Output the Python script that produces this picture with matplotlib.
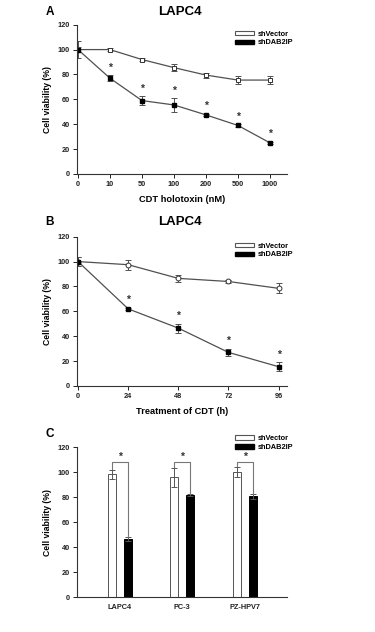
import matplotlib
matplotlib.use("Agg")
import matplotlib.pyplot as plt
from matplotlib.patches import Patch

plt.rcParams['font.family'] = ['Liberation Sans', 'DejaVu Sans']
plt.rcParams['font.weight'] = 'bold'

# Panel A data
a_labels = ["0", "10", "50", "100", "200", "500", "1000"]
a_vec = [100, 100, 92, 85.5, 79.5, 75.5, 75.5]
a_vec_err = [7, 1.5, 1, 3, 2, 3, 3]
a_dab = [100, 77, 59, 55.5, 47.5, 39, 25]
a_dab_err = [2, 2.5, 3.5, 5.5, 1, 1, 1]
a_star = [False, True, True, True, True, True, True]

# Panel B data
b_hours = [0, 24, 48, 72, 96]
b_vec = [100, 97.5, 86.5, 84, 78.5]
b_vec_err = [3.5, 4, 3, 1.5, 4]
b_dab = [100, 62, 46.5, 27, 15.5]
b_dab_err = [3.5, 1, 3.5, 3, 3.5]
b_star = [False, True, True, True, True]

# Panel C data
c_cells = ["LAPC4", "PC-3", "PZ-HPV7"]
c_vec = [98.5, 96, 100]
c_vec_err = [3.5, 7.5, 4]
c_dab = [46.5, 82, 81]
c_dab_err = [1.5, 1, 2]

LC = '#505050'
fig = plt.figure(figsize=(3.75, 6.32), dpi=100)

def style(ax, xlabel):
    for s in ['top', 'right']:
        ax.spines[s].set_visible(False)
    for s in ['left', 'bottom']:
        ax.spines[s].set_color('#333333')
        ax.spines[s].set_linewidth(0.8)
    ax.set_ylim(0, 120)
    ax.set_yticks(range(0, 121, 20))
    ax.tick_params(direction='out', length=3, width=0.7, labelsize=5.3, pad=2, colors='#222222')
    ax.set_ylabel('Cell viability (%)', fontsize=6.2, fontweight='bold', labelpad=4)
    if xlabel:
        ax.set_xlabel(xlabel, fontsize=6.7, fontweight='bold', labelpad=5)

def legend(ax, y):
    h = [Patch(facecolor='white', edgecolor='#555555', linewidth=0.8),
         Patch(facecolor='black', edgecolor='black')]
    ax.legend(h, ['shVector', 'shDAB2IP'], loc='upper left', bbox_to_anchor=(0.74, y),
              frameon=False, fontsize=5.3, handlelength=2.6, handleheight=0.6,
              handletextpad=0.5, labelspacing=0.25, borderaxespad=0)

# Panel A
axA = fig.add_axes([77/375, 1-174/632, 210/375, 149.3/632])
xa = list(range(len(a_labels)))
axA.errorbar(xa, a_vec, yerr=a_vec_err, color=LC, marker='s', markersize=3.5,
             mfc='white', mec='#333333', mew=0.7, lw=0.9, capsize=2, elinewidth=0.7, capthick=0.7)
axA.errorbar(xa, a_dab, yerr=a_dab_err, color=LC, marker='s', markersize=3.5,
             mfc='black', mec='black', lw=0.9, capsize=2, elinewidth=0.7, capthick=0.7)
for x, v, e, s in zip(xa, a_dab, a_dab_err, a_star):
    if s:
        axA.text(x, v + e + 2, '*', ha='center', va='bottom', fontsize=7.5, color='#333333')
axA.set_xlim(-0.03, 6.53)
axA.set_xticks(xa)
axA.set_xticklabels(a_labels)
style(axA, 'CDT holotoxin (nM)')
legend(axA, 0.98)
fig.text(50/375, 1-12/632, 'A', fontsize=8.5, fontweight='bold', va='center', ha='center')
fig.text(180/375, 1-12/632, 'LAPC4', fontsize=9.5, fontweight='bold', va='center', ha='center')

# Panel B
axB = fig.add_axes([77/375, 1-386/632, 210/375, 149.3/632])
axB.errorbar(b_hours, b_vec, yerr=b_vec_err, color=LC, marker='o', markersize=3.5,
             mfc='white', mec='#333333', mew=0.7, lw=0.9, capsize=2, elinewidth=0.7, capthick=0.7)
axB.errorbar(b_hours, b_dab, yerr=b_dab_err, color=LC, marker='s', markersize=3.5,
             mfc='black', mec='black', lw=0.9, capsize=2, elinewidth=0.7, capthick=0.7)
for x, v, e, s in zip(b_hours, b_dab, b_dab_err, b_star):
    if s:
        axB.text(x, v + e + 2, '*', ha='center', va='bottom', fontsize=7.5, color='#333333')
axB.set_xlim(-0.5, 100)
axB.set_xticks(b_hours)
style(axB, 'Treatment of CDT (h)')
legend(axB, 0.98)
fig.text(50/375, 1-222/632, 'B', fontsize=8.5, fontweight='bold', va='center', ha='center')
fig.text(180/375, 1-222/632, 'LAPC4', fontsize=9.5, fontweight='bold', va='center', ha='center')

# Panel C
axC = fig.add_axes([77/375, 1-597.3/632, 210/375, 150/632])
xc = list(range(len(c_cells)))
w = 0.128
off = 0.126
xv = [x - off for x in xc]
xd = [x + off for x in xc]
axC.bar(xv, c_vec, width=w, color='white', edgecolor='#555555', linewidth=0.7,
        yerr=c_vec_err, error_kw=dict(ecolor='#555555', elinewidth=0.7, capsize=2, capthick=0.7))
axC.bar(xd, c_dab, width=w, color='black', edgecolor='black', linewidth=0.7,
        yerr=c_dab_err, error_kw=dict(ecolor='#555555', elinewidth=0.7, capsize=2, capthick=0.7))
for x1, x2, v1, e1, v2, e2 in zip(xv, xd, c_vec, c_vec_err, c_dab, c_dab_err):
    top = 108
    axC.plot([x1, x1, x2, x2], [v1 + e1 + 1, top, top, v2 + e2], color='#777777', lw=0.8)
    axC.text((x1 + x2) / 2, top + 0.5, '*', ha='center', va='bottom', fontsize=7.5, color='#333333')
axC.set_xlim(-0.68, 2.67)
axC.set_xticks(xc)
axC.set_xticklabels(c_cells)
style(axC, None)
axC.tick_params(axis='x', length=0, pad=5)
legend(axC, 1.1)
fig.text(50/375, 1-434/632, 'C', fontsize=8.5, fontweight='bold', va='center', ha='center')

fig.savefig('out.png', dpi=100)
